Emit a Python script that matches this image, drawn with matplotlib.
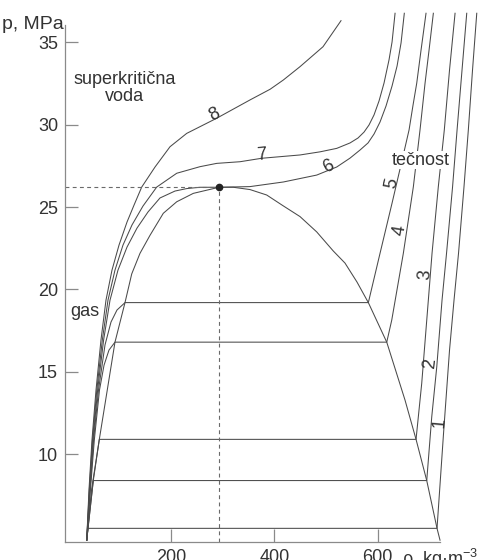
import matplotlib.pyplot as plt

plt.rcParams["font.family"] = ["Liberation Sans", "DejaVu Sans"]
plt.rcParams["mathtext.fontset"] = "custom"
plt.rcParams["mathtext.rm"] = "Liberation Sans"
plt.rcParams["mathtext.it"] = "Liberation Sans:italic"

# critical point (kg/m3, MPa)
rho_c, p_c = 293, 26.2

# coexistence curve, gas side and liquid side
dome_gas_rho = [36.8, 39.3, 49.5, 61.2, 91.5, 110.9, 123.9, 139.9, 159.2,
                185.0, 211.0, 243.1, 293]
dome_gas_p = [4.78, 5.5, 8.4, 10.9, 16.8, 19.2, 20.94, 22.19, 23.28,
              24.62, 25.32, 25.83, 26.2]
dome_liq_rho = [293, 320.5, 352.8, 385.1, 416.7, 449.6, 481.9, 514.0, 536.6,
                559.8, 581.8, 617.4, 652.8, 674.1, 694.8, 714.7, 720.5]
dome_liq_p = [26.2, 26.2, 26.06, 25.73, 25.08, 24.42, 23.49, 22.33, 21.60,
              20.45, 19.2, 16.8, 13.28, 10.9, 8.4, 5.5, 4.78]

# isotherms 1-5: gas branch, tie line, liquid branch
iso1_rho = [36.8, 39.3, 714.7, 727.3, 738.9, 747.6, 756.3, 766.9, 775.3,
            783.4, 791.6]
iso1_p = [4.78, 5.5, 5.5, 11.26, 16.32, 19.35, 22.19, 26.23, 29.68,
          33.32, 36.76]

iso2_rho = [36.8, 49.5, 694.8, 704.5, 714.2, 724.4, 733.1, 744.8, 753.5,
            763.1, 772.2]
iso2_p = [4.78, 8.4, 8.4, 12.27, 15.30, 19.35, 22.19, 26.23, 29.68,
          33.32, 36.76]

iso3_rho = [36.8, 46.1, 61.2, 674.1, 685.1, 697.9, 705.1, 717.2, 728.8,
            738.9, 749.6]
iso3_p = [4.78, 7.82, 10.9, 10.9, 14.30, 19.35, 22.21, 26.23, 29.68,
          33.32, 36.76]

iso4_rho = [36.8, 43.9, 51.5, 61.5, 70.3, 79.9, 91.5,
            617.4, 627.1, 649.5, 668.9, 681.8, 691.5, 699.3, 707.6]
iso4_p = [4.78, 7.82, 10.86, 13.89, 15.40, 16.32, 16.8,
          16.8, 18.14, 22.19, 26.23, 29.68, 32.51, 34.53, 36.76]

iso5_rho = [36.8, 43.2, 50.1, 59.6, 72.2, 83.8, 95.4, 110.9,
            581.8, 604.4, 627.7, 649.0, 660.6, 668.3, 675.4, 683.8, 693.4]
iso5_p = [4.78, 7.82, 10.86, 13.89, 16.63, 18.02, 18.75, 19.2,
          19.2, 22.19, 25.24, 28.10, 29.68, 31.19, 32.51, 34.53, 36.76]

# critical isotherm 6 and supercritical isotherms 7, 8
iso6_rho = [36.8, 42.4, 49.0, 57.9, 69.5, 81.9, 97.3, 114.8, 134.1, 155.4,
            178.6, 207.6, 230.3, 256.1, 293, 352.8, 417.3, 481.9, 520.6,
            546.4, 565.7, 581.2, 592.8, 604.4, 616.0, 627.7, 637.4, 645.1,
            651.4]
iso6_p = [4.78, 7.82, 10.86, 13.89, 16.93, 19.35, 21.17, 22.57, 23.72, 24.70,
          25.55, 25.97, 26.12, 26.20, 26.2, 26.24, 26.52, 26.94, 27.43,
          27.97, 28.46, 28.89, 29.43, 30.16, 31.13, 32.35, 33.56, 34.96,
          36.76]

iso7_rho = [36.8, 41.8, 48.0, 56.3, 67.0, 78.0, 91.5, 107.0, 124.4, 145.7,
            172.2, 211.0, 256.1, 288.4, 333.5, 375.5, 449.6, 488.3, 520.6,
            546.4, 561.8, 573.5, 583.1, 592.8, 602.5, 612.2, 621.8, 627.7,
            633.5]
iso7_p = [4.78, 7.82, 10.86, 13.89, 16.93, 19.35, 21.17, 22.69, 23.91, 25.06,
          26.21, 27.05, 27.45, 27.65, 27.75, 27.96, 28.16, 28.35, 28.56,
          28.89, 29.19, 29.55, 29.98, 30.59, 31.44, 32.53, 33.93, 35.02,
          36.76]

iso8_rho = [36.8, 41.2, 47.0, 54.8, 64.4, 74.1, 85.7, 99.3, 114.8, 128.4,
            143.2, 169.0, 198.0, 230.3, 288.4, 352.8, 391.8, 417.3, 449.6,
            494.1, 528.9]
iso8_p = [4.78, 7.82, 10.86, 13.89, 16.93, 19.35, 21.17, 22.69, 24.09, 25.12,
          26.21, 27.43, 28.66, 29.47, 30.39, 31.50, 32.15, 32.71, 33.52,
          34.73, 36.31]

# isotherm numbers: position and angle along the curve
num_text = ["1", "2", "3", "4", "5", "6", "7", "8"]
num_rho = [720.5, 701, 691.5, 643, 628, 504, 376, 285]
num_p = [11.89, 15.53, 20.87, 23.6, 26.46, 27.43, 28.16, 30.58]
num_rot = [85, 84, 85, 81, 78, 28, 5, 28]

x_ticks = [200, 400, 600]
y_ticks = [10, 15, 20, 25, 30, 35]

fig = plt.figure(figsize=(4.78, 5.6), dpi=100)
ax = fig.add_axes([0.136, 0.0327, 0.864, 0.9495])
ax.set_xlim(-5.2, 794)
ax.set_ylim(4.69, 36.96)

line_kw = dict(color="#4a4a4a", lw=0.75, solid_joinstyle="round")
isotherms = [(iso1_rho, iso1_p), (iso2_rho, iso2_p), (iso3_rho, iso3_p),
             (iso4_rho, iso4_p), (iso5_rho, iso5_p), (iso6_rho, iso6_p),
             (iso7_rho, iso7_p), (iso8_rho, iso8_p)]
for r, p in isotherms:
    ax.plot(r, p, **line_kw)
ax.plot(dome_gas_rho, dome_gas_p, **line_kw)
ax.plot(dome_liq_rho, dome_liq_p, **line_kw)

# dashed guides to the critical point
dash_kw = dict(color="#6a6a6a", lw=0.8, ls=(0, (3.5, 3)))
ax.plot([-5.2, rho_c], [p_c, p_c], **dash_kw)
ax.plot([rho_c, rho_c], [4.69, p_c], **dash_kw)
ax.plot(rho_c, p_c, "o", color="#222222", ms=4.5)

for t, r, p, rot in zip(num_text, num_rho, num_p, num_rot):
    ax.text(r, p, t, fontsize=13, color="#333333", rotation=rot,
            ha="center", va="center", rotation_mode="anchor")

ax.text(110, 32.23, "superkritična\nvoda", fontsize=13, color="#333333",
        ha="center", va="center", linespacing=1.0)
ax.text(684, 27.85, "tečnost", fontsize=13, color="#333333",
        ha="center", va="center",
        bbox=dict(facecolor="white", edgecolor="none", pad=0.5))
ax.text(33, 18.65, "gas", fontsize=13, color="#333333", ha="center", va="center")
ax.text(-8, 36.1, "p, MPa", fontsize=14, color="#333333", ha="right", va="center")
ax.text(720, 4.36, r"ρ, kg·m$^{-3}$", fontsize=13, color="#333333",
        ha="center", va="top")

for s in ["top", "right"]:
    ax.spines[s].set_visible(False)
for s in ["left", "bottom"]:
    ax.spines[s].set_color("#8a8a8a")
    ax.spines[s].set_linewidth(0.9)
ax.spines["left"].set_bounds(4.69, 36.05)
ax.spines["bottom"].set_bounds(-5.2, 720)

ax.set_xticks(x_ticks)
ax.set_yticks(y_ticks)
ax.tick_params(direction="in", length=9.5, width=0.9, color="#8a8a8a",
               labelsize=13, labelcolor="#333333", pad=5)

fig.savefig("out.png", dpi=100)
